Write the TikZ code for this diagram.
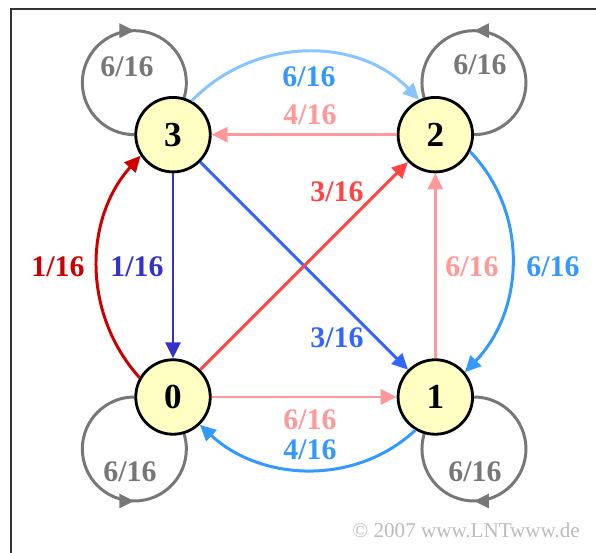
\documentclass[tikz,border=0pt]{standalone}
\usepackage{fontspec}
\setmainfont{Liberation Serif}
\usepackage{xcolor}
\usetikzlibrary{arrows.meta,positioning,backgrounds,decorations.markings}
\definecolor{NodeFill}{HTML}{FFFFC4}
\definecolor{LoopGray}{HTML}{777777}
\definecolor{Pink}{HTML}{FF9999}
\definecolor{SkyBlue}{HTML}{88C4FF}
\definecolor{MidBlue}{HTML}{3399FF}
\definecolor{DeepBlue}{HTML}{3333CC}
\definecolor{DarkRed}{HTML}{CC0000}
\definecolor{BrightBlue}{HTML}{3366FF}
\definecolor{BrightRed}{HTML}{FF4444}
\definecolor{CopyGray}{HTML}{BBBBBB}

\begin{document}
\begin{tikzpicture}[
  node distance=3.70cm,
  state/.style={circle,draw=black,line width=1.6pt,fill=NodeFill,minimum size=1.49cm,inner sep=0pt,font=\fontsize{20}{24}\selectfont\bfseries},
  prob/.style={font=\fontsize{17}{20}\selectfont\bfseries,inner sep=1pt},
  arrow/.style={-{Triangle[length=0.32cm,width=0.3cm]},line width=1.7pt},
  selfloop/.style={line width=1.7pt,color=LoopGray,postaction={decorate},
    decoration={markings,mark=at position 0.6 with {\arrow{Triangle[length=0.3cm,width=0.28cm]}}}}
]
\useasboundingbox (0,0) rectangle (11.92,11.06);
\draw[line width=1pt,color=black!80] (0.22,0) -- (0.22,10.88) -- (11.92,10.88);

\node[state] (n0) at (3.46,3.12) {0};
\node[state,right=of n0] (n1) {1};
\node[state,above=of n1] (n2) {2};
\node[state,above=of n0] (n3) {3};

% self loops, behind the states
\begin{pgfonlayer}{background}
\draw[selfloop] (n3.west) arc[start angle=-90,delta angle=-300,radius=1.04cm];
\draw[selfloop] (n2.east) arc[start angle=-90,delta angle=300,radius=1.04cm];
\draw[selfloop] (n0.west) arc[start angle=90,delta angle=300,radius=1.04cm];
\draw[selfloop] (n1.east) arc[start angle=90,delta angle=-300,radius=1.04cm];
\end{pgfonlayer}

\draw[arrow,Pink] (n2) -- (n3);
\draw[arrow,Pink] (n0) -- (n1);
\draw[arrow,Pink] (n1) -- (n2);
\draw[arrow,DeepBlue] (n3) -- (n0);
\draw[arrow,BrightBlue] (n3) -- (n1);
\draw[arrow,BrightRed] (n0) -- (n2);
\draw[arrow,SkyBlue] (n3.61) to[out=46,in=134,looseness=1] (n2.115);
\draw[arrow,DarkRed] (n0.150) to[out=132,in=228,looseness=0.98] (n3.213);
\draw[arrow,MidBlue] (n2.334) to[out=-46,in=46,looseness=0.99] (n1.40);
\draw[arrow,MidBlue] (n1.239) to[out=-137,in=-43,looseness=0.98] (n0.314);

\node[prob,text=MidBlue] (p32) at (6.18,9.52) {6/16};
\node[prob,text=Pink] (p23) at (6.20,8.76) {4/16};
\node[prob,text=BrightRed] (p02) at (6.74,7.22) {3/16};
\node[prob,text=BrightBlue] (p31) at (6.74,4.30) {3/16};
\node[prob,text=DarkRed] (p03) at (1.16,5.72) {1/16};
\node[prob,text=DeepBlue] (p30) at (2.74,5.72) {1/16};
\node[prob,text=Pink] (p12) at (9.44,5.72) {6/16};
\node[prob,text=MidBlue] (p21) at (11.06,5.72) {6/16};
\node[prob,text=Pink] (p01) at (6.20,2.66) {6/16};
\node[prob,text=MidBlue] (p10) at (6.20,2.06) {4/16};
\node[prob,text=LoopGray] (p33) at (2.54,9.72) {6/16};
\node[prob,text=LoopGray] (p22) at (9.60,9.76) {6/16};
\node[prob,text=LoopGray] (p00) at (2.60,1.62) {6/16};
\node[prob,text=LoopGray] (p11) at (9.50,1.62) {6/16};

\node[font=\fontsize{12}{14}\selectfont,text=CopyGray] (copy) at (9.32,0.46) {© 2007 www.LNTwww.de};
\end{tikzpicture}
\end{document}
